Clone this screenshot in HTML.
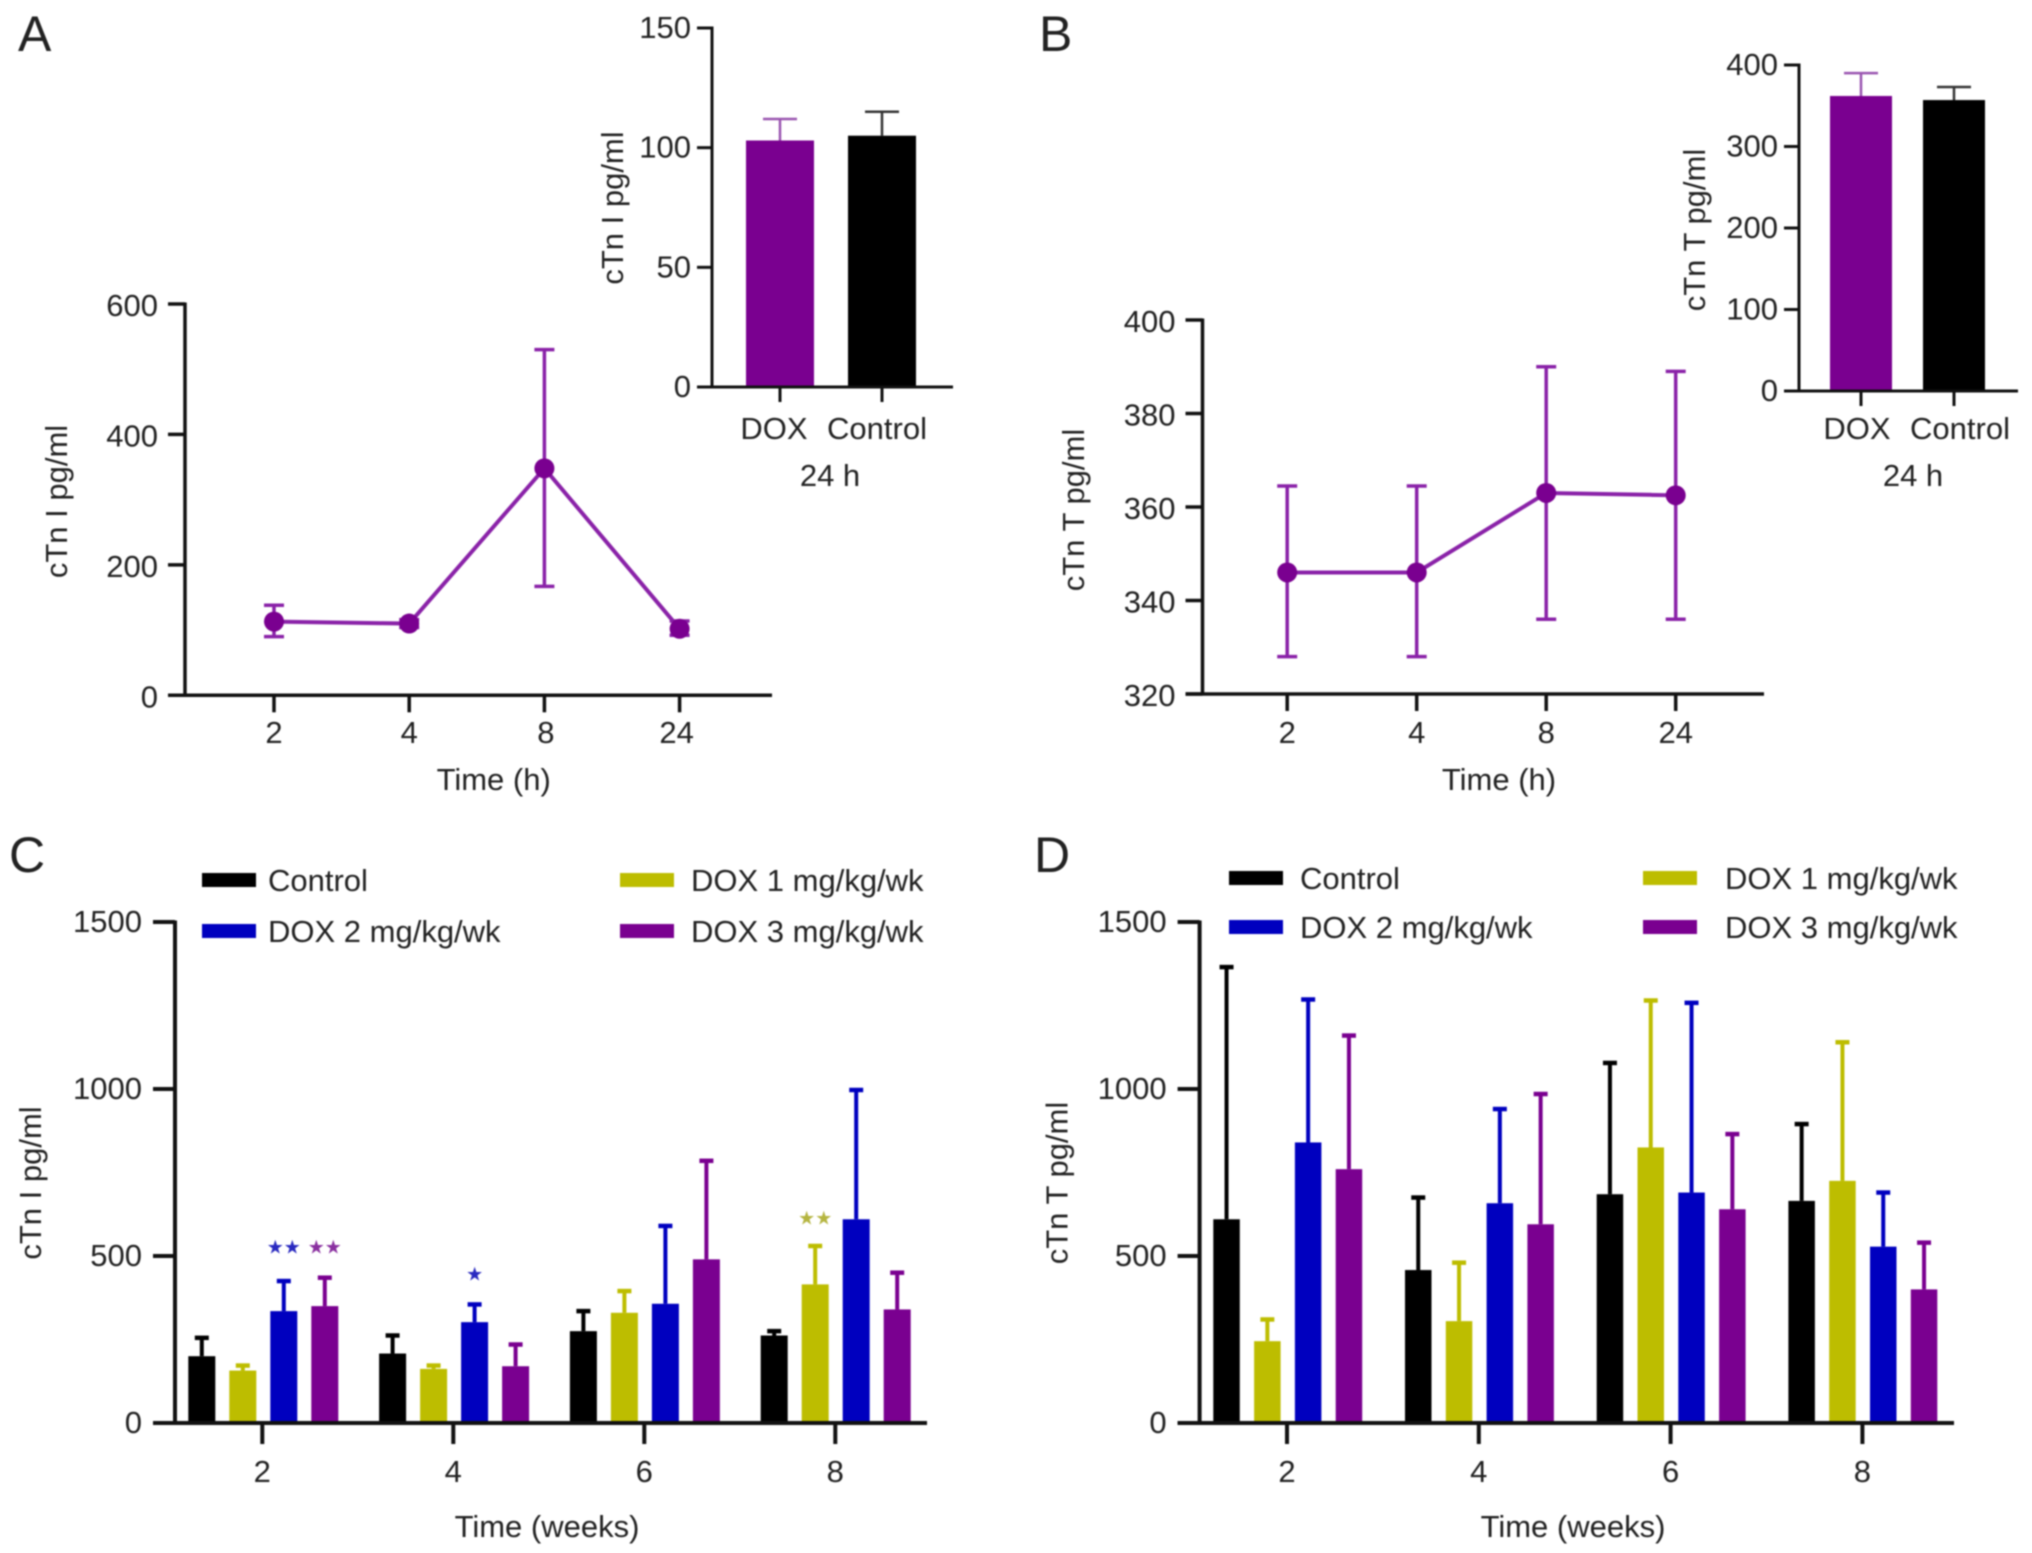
<!DOCTYPE html>
<html>
<head>
<meta charset="utf-8">
<title>cTn charts</title>
<style>
html,body{margin:0;padding:0;background:#fff;width:2032px;height:1553px;overflow:hidden}
svg{display:block;filter:blur(0.8px)}
text{font-family:"Liberation Sans",sans-serif;fill:#222}
</style>
</head>
<body>
<svg id="fig" xmlns="http://www.w3.org/2000/svg" width="2032" height="1553" viewBox="0 0 2032 1553">
<rect x="0" y="0" width="2032" height="1553" fill="#fff"/>
<text x="18" y="51" font-size="50">A</text>
<text x="1039" y="51" font-size="50">B</text>
<text x="9" y="872" font-size="50">C</text>
<text x="1034" y="872" font-size="50">D</text>
</svg>
<script>
// Panel A main
const aTimes = ['2','4','8','24'];
const aMean = [113,110,348,102];
const aHigh = [138,116,530,114];
const aLow = [90,104,167,92];
const aTicks = [0,200,400,600];
// Panel B main
const bTimes = ['2','4','8','24'];
const bMean = [346,346,363,362.5];
const bHigh = [364.5,364.5,390,389];
const bLow = [328,328,336,336];
const bTicks = [320,340,360,380,400];
// Insets
const insetGroups = ['DOX','Control'];
const insetAMean = [103,105];
const insetAHigh = [112,115];
const insetATicks = [0,50,100,150];
const insetBMean = [362,357];
const insetBHigh = [390,373];
const insetBTicks = [0,100,200,300,400];
// Panels C and D
const weeks = ['2','4','6','8'];
const seriesNames = ['Control','DOX 1 mg/kg/wk','DOX 2 mg/kg/wk','DOX 3 mg/kg/wk'];
const barTicks = [0,500,1000,1500];
const cControl = [200,208,275,262];
const cControlTop = [255,262,335,275];
const cDox1 = [157,162,330,415];
const cDox1Top = [172,172,395,530];
const cDox2 = [335,302,357,610];
const cDox2Top = [425,355,590,997];
const cDox3 = [350,170,490,340];
const cDox3Top = [435,235,785,450];
const dControl = [610,458,685,665];
const dControlTop = [1365,675,1078,895];
const dDox1 = [245,305,825,725];
const dDox1Top = [310,480,1265,1140];
const dDox2 = [840,658,690,528];
const dDox2Top = [1268,940,1258,690];
const dDox3 = [760,595,640,400];
const dDox3Top = [1160,985,865,540];
// Significance marks: week index, series index, symbol, value level
const sigWeek = [0,0,1,3];
const sigSeries = [2,3,2,1];
const sigText = ['★★','★★','★','★★'];
const sigLevel = [532,532,450,618];

const PURPLE='#7a0090', ERR='#8a22a8', BLACK='#000', OLIVE='#bdbd00', BLUE='#0000bf';
const seriesColors=[BLACK,OLIVE,BLUE,PURPLE];
const sigColors=['#2a2ac0','#8a30a0','#2a2ac0','#b5b540'];
const svg=document.getElementById('fig');
const NS='http://www.w3.org/2000/svg';
const FS=31;

function make(tag,attrs,parent,txt){
  const e=document.createElementNS(NS,tag);
  for(const k in attrs)e.setAttribute(k,attrs[k]);
  if(txt!==undefined)e.textContent=txt;
  (parent||svg).appendChild(e);
  return e;
}
function group(name){
  const g=make('g',{},svg);
  
  
  return g;
}
function line(p,name,x1,y1,x2,y2,color,w){
  const e=make('line',{x1,y1,x2,y2,stroke:color,'stroke-width':w},p);
  
  
  return e;
}
function label(p,name,x,y,s,size,anchor,rot,color){
  const a={x,y,'font-size':size,'text-anchor':anchor||'middle'};
  if(rot)a.transform='rotate('+rot+' '+x+' '+y+')';
  if(color)a.style='fill:'+color;
  const e=make('text',a,p,s);
  
  
  return e;
}
function rect(p,name,x,y,w,h,color){
  const e=make('rect',{x,y,width:w,height:h,fill:color},p);
  
  
  return e;
}
function yScale(min,max,pxBottom,pxTop){
  return v=>pxBottom+(v-min)/(max-min)*(pxTop-pxBottom);
}
function yAxis(p,x,y,ticks,right,tl,gap,lw,drop){
  const top=y(ticks[ticks.length-1]), bot=y(ticks[0]);
  line(p,'y-axis-line',x,top-1.5,x,bot+1.5,'#111',lw);
  line(p,'x-axis-line',x-tl,bot,right,bot,'#111',lw);
  ticks.forEach(t=>{
    line(p,'y-tick',x-tl,y(t),x,y(t),'#111',lw);
    label(p,'y-tick-label',x-gap,y(t)+drop,String(t),FS,'end');
  });
}
function xTicks(p,labels,xf,yBase,labY,tl,lw,dx){
  labels.forEach((s,i)=>{
    line(p,'x-tick',xf(i),yBase,xf(i),yBase+tl,'#111',lw);
    label(p,'x-tick-label',xf(i)+(dx?dx[i]:0),labY,s,FS);
  });
}
function linePanel(name,labels,mean,hi,lo,ticks,cfg){
  const g=group(name);
  const y=yScale(ticks[0],ticks[ticks.length-1],cfg.y0,cfg.y1);
  const x=i=>cfg.x0+i*cfg.step;
  yAxis(g,cfg.ax,y,ticks,cfg.right,17,27,3.5,12);
  xTicks(g,labels,x,cfg.y0,743,17,3.5,cfg.ldx);
  label(g,'y-axis-title',cfg.tx,cfg.ty,cfg.title,FS,'middle',-90);
  label(g,'x-axis-title',cfg.xtx,790,'Time (h)',FS);
  mean.forEach((m,i)=>{
    line(g,'error-bar',x(i),y(hi[i]),x(i),y(lo[i]),ERR,3.5);
    line(g,'error-cap-high',x(i)-10,y(hi[i]),x(i)+10,y(hi[i]),ERR,3.5);
    line(g,'error-cap-low',x(i)-10,y(lo[i]),x(i)+10,y(lo[i]),ERR,3.5);
  });
  const pts=mean.map((m,i)=>x(i)+','+y(m)).join(' ');
  const pl=make('polyline',{points:pts,fill:'none',stroke:ERR,'stroke-width':4},g);
  
  
  mean.forEach((m,i)=>{
    const c=make('circle',{cx:x(i),cy:y(m),r:10,fill:PURPLE},g);
    
    
  });
}
function insetPanel(name,mean,hi,ticks,cfg){
  const g=group(name);
  const y=yScale(ticks[0],ticks[ticks.length-1],cfg.y0,cfg.y1);
  const x=i=>cfg.x0+i*cfg.step;
  const colors=[PURPLE,BLACK];
  mean.forEach((m,i)=>{
    const c=i===0?'#9a55b0':'#333';
    line(g,'inset-error-bar',x(i),y(hi[i]),x(i),y(m),c,2.5);
    line(g,'inset-error-cap',x(i)-17,y(hi[i]),x(i)+17,y(hi[i]),c,2.5);
    rect(g,'inset-bar',x(i)-cfg.w/2,y(m),cfg.w,y(0)-y(m),colors[i]);
  });
  yAxis(g,cfg.ax,y,ticks,cfg.right,15,21,3,10);
  xTicks(g,insetGroups,x,cfg.y0,439,15,3,cfg.ldx);
  label(g,'y-axis-title',cfg.tx,cfg.ty,cfg.title,FS,'middle',-90);
  label(g,'inset-time-label',cfg.hx,486,'24 h',FS);
}
function barPanel(name,data,tops,cfg){
  const g=group(name);
  const y=yScale(0,1500,cfg.y0,cfg.y1);
  const bx=(w,s)=>cfg.x0+w*cfg.groupStep+s*cfg.barStep;
  data.forEach((vals,s)=>{
    vals.forEach((v,w)=>{
      const cx=bx(w,s)+cfg.bw/2;
      line(g,'error-bar',cx,y(tops[s][w]),cx,y(v),seriesColors[s],4);
      line(g,'error-cap',cx-7,y(tops[s][w]),cx+7,y(tops[s][w]),seriesColors[s],4.5);
      rect(g,'bar',bx(w,s),y(v),cfg.bw,y(0)-y(v),seriesColors[s]);
    });
  });
  yAxis(g,cfg.ax,y,barTicks,cfg.right,22,33,4,10);
  const xt=i=>cfg.t0+i*cfg.tStep;
  xTicks(g,weeks,xt,cfg.y0,1482,21,4);
  label(g,'y-axis-title',cfg.tx,1183,cfg.title,FS,'middle',-90);
  label(g,'x-axis-title',cfg.xtx,1537,'Time (weeks)',FS);
  seriesNames.forEach((s,i)=>{
    const order=[[0,0],[1,0],[0,1],[1,1]][i];
    const sx=order[0]?cfg.lx2:cfg.lx1, tx=order[0]?cfg.ltx2:cfg.ltx1, ly=order[1]?cfg.ly2:cfg.ly1;
    rect(g,'legend-swatch',sx,ly-7,54,14,seriesColors[i]);
    label(g,'legend-entry',tx,ly+11,s,FS,'start');
  });
  return {g,y,bx};
}

linePanel('panel-a-line-chart',aTimes,aMean,aHigh,aLow,aTicks,{y0:695.3,y1:304,x0:274,step:135.2,ax:185,right:772,tx:67,ty:501.5,title:'cTn I pg/ml',xtx:493.7,ldx:[0,0,1.5,-3]});
linePanel('panel-b-line-chart',bTimes,bMean,bHigh,bLow,bTicks,{y0:694,y1:320,x0:1287.2,step:129.5,ax:1202.5,right:1764,tx:1084,ty:510,title:'cTn T pg/ml',xtx:1499});
insetPanel('panel-a-inset-bars',insetAMean,insetAHigh,insetATicks,{y0:387,y1:28,x0:780,step:102,w:68,ax:712,right:953,tx:623,ty:208,title:'cTn I pg/ml',ldx:[-6,-5],hx:830});
insetPanel('panel-b-inset-bars',insetBMean,insetBHigh,insetBTicks,{y0:391,y1:65,x0:1861,step:93,w:62,ax:1799,right:2018,tx:1705,ty:230,title:'cTn T pg/ml',ldx:[-4,6],hx:1913});

const pc=barPanel('panel-c-bar-chart',[cControl,cDox1,cDox2,cDox3],[cControlTop,cDox1Top,cDox2Top,cDox3Top],{y0:1423,y1:922,x0:188.3,groupStep:190.8,barStep:41,bw:27,ax:175,right:927,t0:262.3,tStep:191,tx:41,title:'cTn I pg/ml',xtx:547,lx1:202,ltx1:268,lx2:620,ltx2:691,ly1:880,ly2:931});
const pd=barPanel('panel-d-bar-chart',[dControl,dDox1,dDox2,dDox3],[dControlTop,dDox1Top,dDox2Top,dDox3Top],{y0:1423,y1:922,x0:1213.3,groupStep:191.7,barStep:40.8,bw:26.5,ax:1199.6,right:1954,t0:1287,tStep:191.8,tx:1067.5,title:'cTn T pg/ml',xtx:1573,lx1:1229,ltx1:1300,lx2:1643,ltx2:1725,ly1:878,ly2:927});

sigText.forEach((s,i)=>{
  const t=make('text',{x:pc.bx(sigWeek[i],sigSeries[i])+13.5,y:pc.y(sigLevel[i])+8,'font-size':19,'text-anchor':'middle',style:'font-family:"DejaVu Sans",sans-serif;fill:'+sigColors[i]},pc.g,s);
  
  
});
</script>
</body>
</html>
